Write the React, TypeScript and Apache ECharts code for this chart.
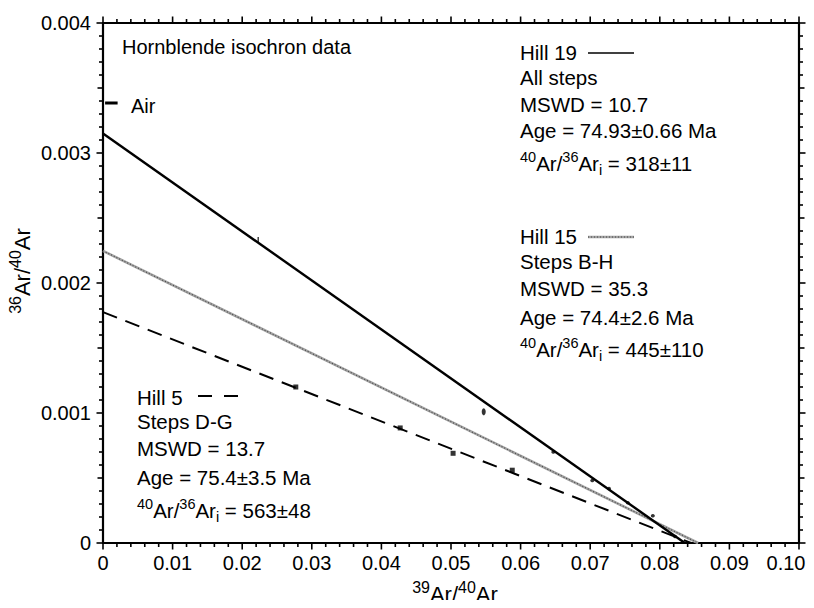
import { useEffect, useRef } from 'react';
import * as echarts from 'echarts';

const FONT = '"Liberation Sans", Arial, Helvetica, sans-serif';

// Tick labels
const xTickLabels = ['0', '0.01', '0.02', '0.03', '0.04', '0.05', '0.06', '0.07', '0.08', '0.09', '0.10'];
const yTickLabels = ['0', '0.001', '0.002', '0.003', '0.004'];

// Isochron regression lines (endpoints: y-intercept and x-intercept)
const hill19Line = [[0, 0.00315], [0.0836, 0]];
const hill15Line = [[0, 0.002247], [0.0855, 0]];
const hill5Line = [[0, 0.001776], [0.0845, 0]];

// Air ratio marker
const airRatio = 0.003384;
const airMark = [[0.0003, airRatio], [0.0021, airRatio]];

// Step data points
const hill19Ellipse = [[0.0547, 0.00101]];
const hill19Bars = [[0.0223, 0.00233]];
const hill19Points = [
  [0.0647, 0.0007], [0.0703, 0.00048], [0.0727, 0.00042], [0.0754, 0.00031],
  [0.079, 0.00021], [0.0822, 0.00005],
];
const hill15Points = [
  [0.0647, 0.00052], [0.0703, 0.00041], [0.0712, 0.00038], [0.0728, 0.00029],
  [0.0766, 0.00023], [0.0787, 0.00016], [0.081, 0.00012],
];
const hill5Points = [[0.0277, 0.0012], [0.0427, 0.000885], [0.0503, 0.00069], [0.0588, 0.00056]];

// Axis tick positions (decoration): [x, y, length]
const xTickMarks: number[][] = [];
for (let i = 0; i <= 50; i++) xTickMarks.push([i * 0.002, 0, i % 5 === 0 ? 6.5 : 4]);
const yTickMarks: number[][] = [];
for (let i = 0; i <= 40; i++) yTickMarks.push([0, i * 0.0001, i % 10 === 0 ? 6.5 : i % 5 === 0 ? 5.5 : 4]);

const rich = {
  n: { fontSize: 20.5, lineHeight: 28, fontFamily: FONT, color: '#000' },
  sup: { fontSize: 14.5, verticalAlign: 'top', fontFamily: FONT, color: '#000' },
  sub: { fontSize: 14.5, lineHeight: 14, verticalAlign: 'bottom', fontFamily: FONT, color: '#000' },
};
const titleRich = {
  n: { fontSize: 22, lineHeight: 30, fontFamily: FONT, color: '#000' },
  sup: { fontSize: 16, verticalAlign: 'top', fontFamily: FONT, color: '#000' },
};

function txt(x: number, y: number, text: string, size = 20.5) {
  return {
    type: 'text',
    x,
    y,
    style: { text, fill: '#000', fontSize: size, fontFamily: FONT, verticalAlign: 'middle', align: 'left' },
  };
}
function richTxt(x: number, y: number, text: string) {
  return {
    type: 'text',
    x,
    y,
    style: { text, rich, fill: '#000', fontSize: 20.5, fontFamily: FONT, verticalAlign: 'middle', align: 'left' },
  };
}

function baseX(position: 'top' | 'bottom', labels: boolean) {
  return {
    type: 'value',
    position,
    min: 0,
    max: 0.1,
    interval: 0.01,
    axisLine: { show: true, onZero: false, lineStyle: { color: '#000', width: 2.2 } },
    axisTick: { show: false },
    minorTick: { show: false },
    splitLine: { show: false },
    axisLabel: {
      show: labels,
      fontSize: 20,
      fontFamily: FONT,
      color: '#000',
      margin: 10,
      formatter: (v: number) => {
        const i = Math.round(v / 0.01);
        const s = xTickLabels[i] ?? '';
        return i === xTickLabels.length - 1 ? `{r|${s}}` : s;
      },
      rich: { r: { fontSize: 20, fontFamily: FONT, color: '#000', padding: [0, 26, 0, 0] } },
    },
  };
}
function baseY(position: 'left' | 'right', labels: boolean) {
  return {
    type: 'value',
    position,
    min: 0,
    max: 0.004,
    interval: 0.001,
    axisLine: { show: true, onZero: false, lineStyle: { color: '#000', width: 2.2 } },
    axisTick: { show: false },
    minorTick: { show: false },
    splitLine: { show: false },
    axisLabel: {
      show: labels,
      fontSize: 20,
      fontFamily: FONT,
      color: '#000',
      margin: 12,
      formatter: (v: number) => yTickLabels[Math.round(v / 0.001)] ?? '',
    },
  };
}

function tickSeries(data: number[][], dir: 'x' | 'y') {
  return {
    type: 'custom',
    coordinateSystem: 'cartesian2d',
    silent: true,
    clip: false,
    z: 10,
    data,
    renderItem: (params: any, api: any) => {
      const cs = params.coordSys;
      const len = api.value(2);
      const st = { stroke: '#000', lineWidth: 1.6 };
      if (dir === 'x') {
        const px = api.coord([api.value(0), 0])[0];
        const top = cs.y;
        const bottom = cs.y + cs.height;
        return {
          type: 'group',
          children: [
            { type: 'line', shape: { x1: px, y1: bottom, x2: px, y2: bottom + len }, style: st },
            { type: 'line', shape: { x1: px, y1: top, x2: px, y2: top - len }, style: st },
          ],
        };
      }
      const py = api.coord([0, api.value(1)])[1];
      const left = cs.x;
      const right = cs.x + cs.width;
      return {
        type: 'group',
        children: [
          { type: 'line', shape: { x1: left, y1: py, x2: left - len, y2: py }, style: st },
          { type: 'line', shape: { x1: right, y1: py, x2: right + len, y2: py }, style: st },
        ],
      };
    },
  };
}

export default function App() {
  const ref = useRef<HTMLDivElement>(null);
  useEffect(() => {
    if (!ref.current) return;
    const chart = echarts.init(ref.current, null, { renderer: 'svg' });
    const option: any = {
      animation: false,
      backgroundColor: '#fff',
      grid: { left: 103, right: 15, top: 23, bottom: 65, containLabel: false },
      xAxis: [baseX('bottom', true), baseX('top', false)],
      yAxis: [baseY('left', true), baseY('right', false)],
      series: [
        tickSeries(xTickMarks, 'x'),
        tickSeries(yTickMarks, 'y'),
        {
          type: 'line', data: hill5Line, symbol: 'none', silent: true,
          lineStyle: { color: '#000', width: 2, type: [15, 9] },
        },
        {
          type: 'line', data: hill15Line, symbol: 'none', silent: true,
          lineStyle: { color: '#a3a3a3', width: 2.6 },
        },
        {
          type: 'line', data: hill15Line, symbol: 'none', silent: true,
          lineStyle: { color: '#444', width: 1.1, type: [1, 2] },
        },
        {
          type: 'line', data: hill19Line, symbol: 'none', silent: true,
          lineStyle: { color: '#000', width: 2.4 },
        },
        {
          type: 'line', data: airMark, symbol: 'none', silent: true,
          lineStyle: { color: '#000', width: 3 },
        },
        {
          type: 'scatter', data: hill19Ellipse, symbol: 'circle', symbolSize: [4, 7],
          itemStyle: { color: '#000' },
        },
        {
          type: 'scatter', data: hill19Bars, symbol: 'rect', symbolSize: [1.4, 6],
          itemStyle: { color: '#000' },
        },
        {
          type: 'scatter', data: hill19Points, symbol: 'circle', symbolSize: [4, 3.5],
          itemStyle: { color: '#000' },
        },
        {
          type: 'scatter', data: hill15Points, symbol: 'emptyCircle', symbolSize: 3.5,
          itemStyle: { color: '#fff', borderColor: '#666', borderWidth: 1 },
        },
        {
          type: 'scatter', data: hill5Points, symbol: 'rect', symbolSize: [5, 5],
          itemStyle: { color: '#000' },
        },
      ],
      graphic: [
        txt(122, 47, 'Hornblende isochron data', 20),
        txt(131, 106, 'Air', 20),
        // Hill 19 block
        txt(520, 52, 'Hill 19'),
        { type: 'line', shape: { x1: 588, y1: 53, x2: 634, y2: 53 }, style: { stroke: '#000', lineWidth: 1.6 } },
        txt(520, 77, 'All steps'),
        txt(520, 104, 'MSWD = 10.7'),
        txt(520, 130, 'Age = 74.93±0.66 Ma'),
        richTxt(520, 163, '{sup|40}{n|Ar/}{sup|36}{n|Ar}{sub|i}{n| = 318±11}'),
        // Hill 15 block
        txt(520, 236, 'Hill 15'),
        { type: 'line', shape: { x1: 588, y1: 237, x2: 634, y2: 237 }, style: { stroke: '#a3a3a3', lineWidth: 2.4 } },
        { type: 'line', shape: { x1: 588, y1: 237, x2: 634, y2: 237 }, style: { stroke: '#444', lineWidth: 1, lineDash: [1, 2] } },
        txt(520, 261, 'Steps B-H'),
        txt(520, 288, 'MSWD = 35.3'),
        txt(520, 317, 'Age = 74.4±2.6 Ma'),
        richTxt(520, 349, '{sup|40}{n|Ar/}{sup|36}{n|Ar}{sub|i}{n| = 445±110}'),
        // Hill 5 block
        txt(137, 397, 'Hill 5'),
        { type: 'line', shape: { x1: 198, y1: 396, x2: 238, y2: 396 }, style: { stroke: '#000', lineWidth: 2, lineDash: [14, 12] } },
        txt(137, 421, 'Steps D-G'),
        txt(137, 448, 'MSWD = 13.7'),
        txt(137, 477, 'Age = 75.4±3.5 Ma'),
        richTxt(137, 510, '{sup|40}{n|Ar/}{sup|36}{n|Ar}{sub|i}{n| = 563±48}'),
        // Axis titles
        {
          type: 'text',
          x: 455,
          y: 594,
          style: {
            text: '{sup|39}{n|Ar/}{sup|40}{n|Ar}', rich: titleRich, fill: '#000', fontSize: 22, fontFamily: FONT,
            align: 'center', verticalAlign: 'middle',
          },
        },
        {
          type: 'text',
          x: 22,
          y: 271,
          rotation: Math.PI / 2,
          style: {
            text: '{sup|36}{n|Ar/}{sup|40}{n|Ar}', rich: titleRich, fill: '#000', fontSize: 22, fontFamily: FONT,
            align: 'center', verticalAlign: 'middle',
          },
        },
      ],
    };
    chart.setOption(option);
    return () => chart.dispose();
  }, []);
  return <div ref={ref} style={{ width: 814, height: 608, margin: -8 }} />;
}
